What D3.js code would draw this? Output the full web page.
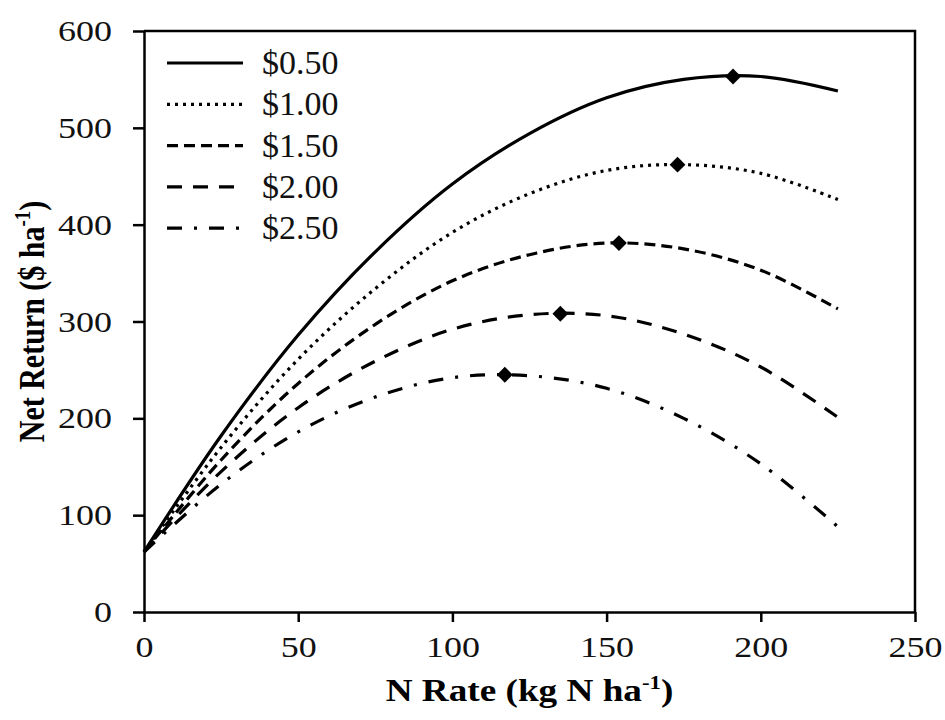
<!DOCTYPE html>
<html>
<head>
<meta charset="utf-8">
<script src="https://cdn.jsdelivr.net/npm/d3@7"></script>
<style>
  body { margin: 0; background: #fff; }
  svg { display: block; font-family: "Liberation Serif", "Times New Roman", serif; }
</style>
</head>
<body>
<svg width="945" height="720"></svg>
<script>
const nRates = [0, 25, 50, 75, 100, 125, 150, 175, 200, 225]

// net return ($/ha) for each N price
const price050 = [62, 182, 286, 372, 442, 494, 531, 550, 553, 538]
const price100 = [62, 170, 261, 334, 392, 432, 456, 462, 453, 426]
const price150 = [62, 157, 236, 297, 342, 369, 381, 375, 353, 313]
const price200 = [62, 145, 211, 259, 292, 307, 306, 287, 253, 201]
const price250 = [62, 132, 186, 222, 242, 244, 231, 200, 153, 88]

// economic optimum (diamonds)
const optN = [191, 173, 154, 135, 117]
const optReturn = [553, 462, 381, 308, 245]

const seriesNames = ["$0.50", "$1.00", "$1.50", "$2.00", "$2.50"]
const xTicks = [0, 50, 100, 150, 200, 250]
const yTicks = [0, 100, 200, 300, 400, 500, 600]

const dashes = ["none", "3,5", "11,6", "15,11", "15,12,3,12"]
const allSeries = [price050, price100, price150, price200, price250]

const svg = d3.select("svg")
const plotL = 144, plotR = 915, plotT = 31, plotB = 612
const stretch = 1.2   // the original figure is a bit wider than tall

const x = d3.scaleLinear().domain([0, 250]).range([plotL, plotR])
const y = d3.scaleLinear().domain([0, 600]).range([plotB, plotT])

// frame (top + right)
svg.append("path")
    .attr("d", `M${plotL},${plotT}H${plotR}V${plotB}`)
    .attr("fill", "none")
    .attr("stroke", "#000")
    .attr("stroke-width", 2.5)

// x axis
const gx = svg.append("g")
    .attr("transform", `translate(0,${plotB})`)
    .call(d3.axisBottom(x).tickValues(xTicks).tickSize(10).tickSizeOuter(0).tickPadding(14))
gx.select(".domain").attr("stroke-width", 2.5)
gx.selectAll(".tick line").attr("stroke-width", 2.5)
gx.selectAll(".tick text")
    .attr("font-size", 30)
    .attr("font-family", "Liberation Serif")
    .attr("fill", "#111")
    .attr("transform", `scale(${stretch},1)`)

// y axis
const gy = svg.append("g")
    .attr("transform", `translate(${plotL},0)`)
    .call(d3.axisLeft(y).tickValues(yTicks).tickSize(11).tickSizeOuter(0).tickPadding(21))
gy.select(".domain").attr("stroke-width", 2.5)
gy.selectAll(".tick line").attr("stroke-width", 2.5)
gy.selectAll(".tick text")
    .attr("font-size", 30)
    .attr("font-family", "Liberation Serif")
    .attr("fill", "#111")
    .attr("x", -32 / stretch)
    .attr("transform", `scale(${stretch},1)`)

// curves
const line = d3.line()
    .x((d, i) => x(nRates[i]))
    .y(d => y(d))
    .curve(d3.curveCatmullRom.alpha(0.5))

svg.append("g").selectAll("path")
    .data(allSeries).enter()
    .append("path")
    .attr("d", line)
    .attr("fill", "none")
    .attr("stroke", "#000")
    .attr("stroke-width", 3.2)
    .attr("stroke-dasharray", (d, i) => dashes[i])

// optimum markers
svg.append("g").selectAll("path")
    .data(optN).enter()
    .append("path")
    .attr("d", d3.symbol().type(d3.symbolSquare).size(125))
    .attr("transform", (d, i) => `translate(${x(d)},${y(optReturn[i])}) rotate(45)`)
    .attr("fill", "#000")

// legend
const legend = svg.append("g")
    .selectAll("g")
    .data(seriesNames).enter()
    .append("g")
    .attr("transform", (d, i) => `translate(167,${63 + i * 41.3})`)

legend.append("line")
    .attr("x1", 0).attr("x2", 76)
    .attr("stroke", "#000")
    .attr("stroke-width", 3.2)
    .attr("stroke-dasharray", (d, i) => dashes[i])

legend.append("text")
    .attr("x", 95)
    .attr("y", 11)
    .attr("font-size", 34)
    .attr("fill", "#111")
    .text(d => d)

// axis titles
const xTitle = svg.append("text")
    .attr("transform", `translate(${(plotL + plotR) / 2},701) scale(${stretch},1)`)
    .attr("text-anchor", "middle")
    .attr("font-size", 31)
    .attr("font-weight", "bold")
xTitle.append("tspan").text("N Rate (kg N ha")
xTitle.append("tspan").text("-1").attr("font-size", 19).attr("dy", -12)
xTitle.append("tspan").text(")").attr("dy", 12)

const yTitle = svg.append("text")
    .attr("transform", `translate(44,${(plotT + plotB) / 2}) rotate(-90) scale(1,${stretch})`)
    .attr("text-anchor", "middle")
    .attr("font-size", 30)
    .attr("font-weight", "bold")
yTitle.append("tspan").text("Net Return ($ ha")
yTitle.append("tspan").text("-1").attr("font-size", 19).attr("dy", -12)
yTitle.append("tspan").text(")").attr("dy", 12)
</script>
</body>
</html>
